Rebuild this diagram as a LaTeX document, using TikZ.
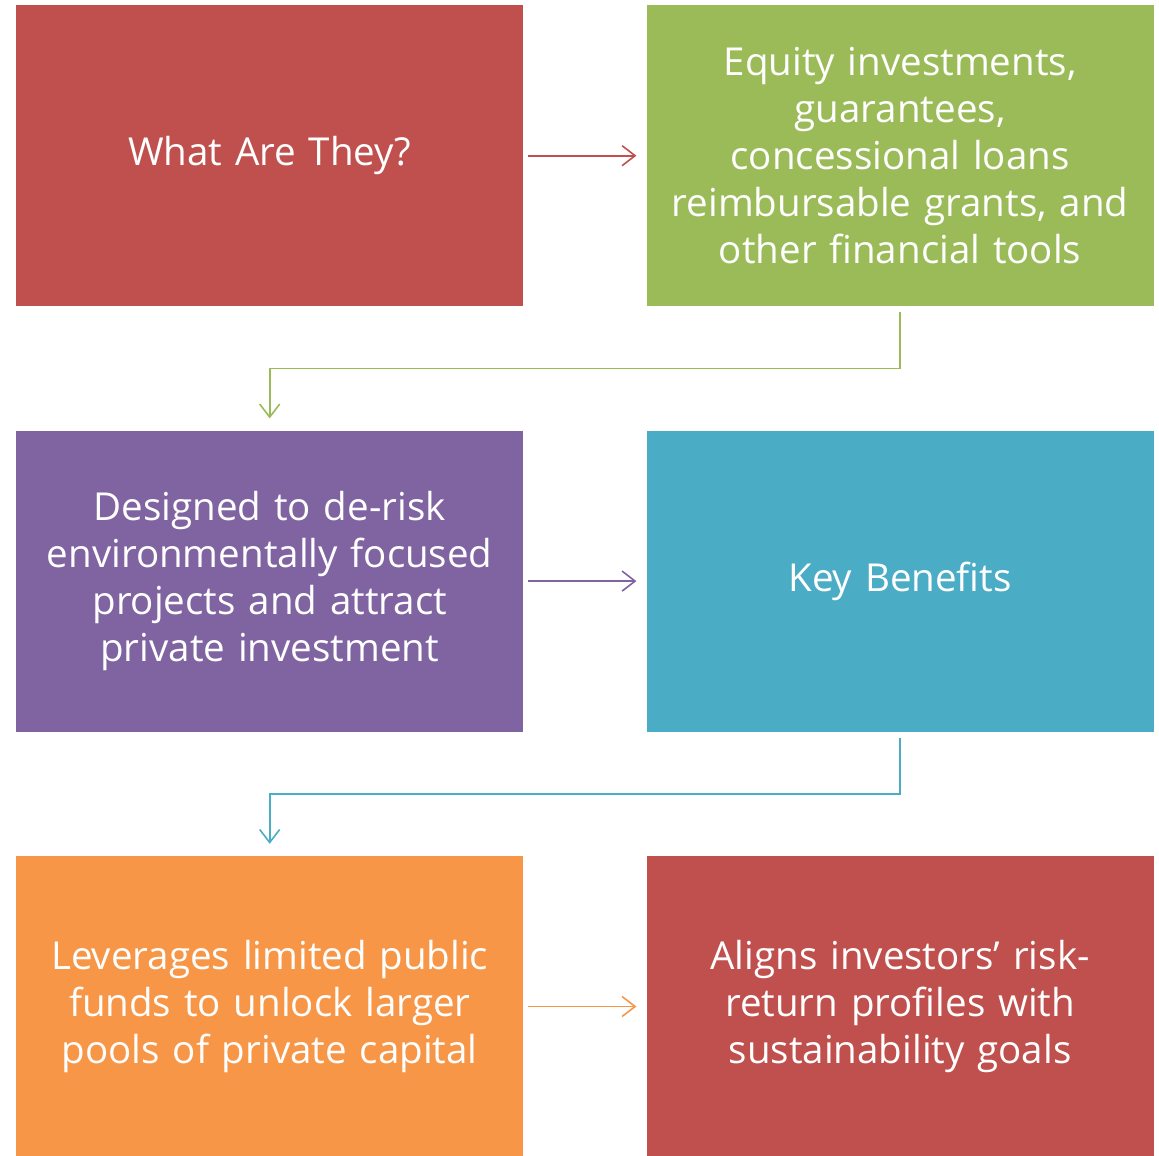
\documentclass[tikz,border=0pt]{standalone}
\usepackage{fontspec}
\setmainfont{Open Sans}
\usetikzlibrary{positioning,arrows.meta}
\definecolor{boxred}{HTML}{C0504D}
\definecolor{boxgreen}{HTML}{9BBB59}
\definecolor{boxpurple}{HTML}{8064A2}
\definecolor{boxteal}{HTML}{4BACC6}
\definecolor{boxorange}{HTML}{F79646}
\tikzset{
    flow-box/.style = {rectangle, minimum width=507pt, minimum height=301pt, text width=500pt, align=center, text=white, inner sep=0pt,
        font=\fontsize{38.5}{47}\selectfont},
    flow-arrow/.style = {line width=1.6pt, -{Straight Barb[length=13pt, width=20pt, line width=1.6pt]}},
}

\begin{document}
\begin{tikzpicture}[x=1pt, y=-1pt, node distance=124pt and 123pt]
\useasboundingbox (0,0) rectangle (1159,1156);
\node [flow-box, fill=boxred, anchor=north west] (what) at (16,5) {What Are They?};
\node [flow-box, fill=boxgreen, right=of what] (tools) {Equity investments,\\ guarantees,\\ concessional loans\\ reimbursable grants, and\\ other financial tools};
\node [flow-box, fill=boxpurple, below=of what] (derisk) {Designed to de-risk\\ environmentally focused\\ projects and attract\\ private investment};
\node [flow-box, fill=boxteal, right=of derisk] (benefits) {Key Benefits};
\node [flow-box, fill=boxorange, below=of derisk] (leverage) {Leverages limited public\\ funds to unlock larger\\ pools of private capital};
\node [flow-box, fill=boxred, right=of leverage] (aligns) {Aligns investors’ risk-\\ return profiles with\\ sustainability goals};

% row arrows
\draw [flow-arrow, draw=boxred, shorten <=5pt, shorten >=10pt] (what) -- (tools);
\draw [flow-arrow, draw=boxpurple, shorten <=5pt, shorten >=10pt] (derisk) -- (benefits);
\draw [flow-arrow, draw=boxorange, shorten <=5pt, shorten >=10pt] (leverage) -- (aligns);
% elbows down to the next row
\draw [flow-arrow, draw=boxgreen, shorten <=6pt, shorten >=12pt] (tools.south) -- ++(0,62) -| (derisk.north);
\draw [flow-arrow, draw=boxteal, shorten <=6pt, shorten >=12pt] (benefits.south) -- ++(0,62) -| (leverage.north);
\end{tikzpicture}
\end{document}
